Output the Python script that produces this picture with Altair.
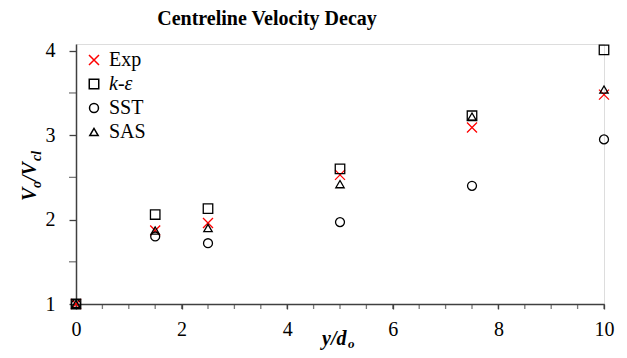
import altair as alt
import pandas as pd

x_vals = [0, 1.5, 2.5, 5, 7.5, 10]
series_names = ["Exp", "k-ε", "SST", "SAS"]
exp_vals = [1.0, 1.87, 1.96, 2.53, 3.09, 3.48]
ke_vals = [1.0, 2.06, 2.13, 2.60, 3.23, 4.01]
sst_vals = [1.0, 1.80, 1.72, 1.97, 2.40, 2.95]
sas_vals = [1.0, 1.87, 1.90, 2.42, 3.22, 3.54]

rows = []
for name, vals in zip(series_names, [exp_vals, ke_vals, sst_vals, sas_vals]):
    for xv, yv in zip(x_vals, vals):
        rows.append({"x": xv, "y": yv, "series": name})
df = pd.DataFrame(rows)

FONT = "Liberation Serif"
W, H = 528, 260
X_PATH = "M-1,-1L1,1M-1,1L1,-1"

points = alt.Chart(df).mark_point(filled=False, strokeWidth=1.3, opacity=1).encode(
    x=alt.X("x:Q", scale=alt.Scale(domain=[0, 10], nice=False, zero=False),
            axis=alt.Axis(values=[0, 2, 4, 6, 8, 10], format="d", title=None, grid=False,
                          labelFont=FONT, labelFontSize=20,
                          labelColor="black", labelPadding=10, tickSize=5,
                          domainColor="#404040", tickColor="#404040",
                          domainWidth=1.5, tickWidth=1.3, labelFlush=False)),
    y=alt.Y("y:Q", scale=alt.Scale(domain=[1, 4.08], nice=False, zero=False),
            axis=alt.Axis(values=[1, 2, 3, 4], format="d", title=None, grid=False,
                          labelFont=FONT, labelFontSize=20, labelColor="black",
                          labelPadding=14, tickSize=7, domainColor="#404040",
                          tickColor="#404040", domainWidth=1.5, tickWidth=1.3,
                          labelFlush=False)),
    shape=alt.Shape("series:N", scale=alt.Scale(domain=series_names,
                    range=[X_PATH, "square", "circle", "triangle-up"])),
    color=alt.Color("series:N", scale=alt.Scale(domain=series_names,
                    range=["#ff0000", "black", "black", "black"])),
    size=alt.Size("series:N", scale=alt.Scale(domain=series_names,
                  range=[100, 70, 64, 55]),
                  legend=alt.Legend(title=None, orient="none", legendX=8, legendY=6,
                                    labelFont=FONT, labelFontSize=20,
                                    labelColor="black", rowPadding=4,
                                    labelOffset=5, padding=0,
                                    labelFontStyle={"expr": "datum.label == 'k-ε' ? 'italic' : 'normal'"})),
)

minor_x = pd.DataFrame({"v": [i * 0.5 for i in range(21)]})

xticks = alt.Chart(minor_x).mark_tick(color="#404040", thickness=1.3, size=5, orient="vertical").encode(
    x=alt.X("v:Q", scale=alt.Scale(domain=[0, 10], nice=False, zero=False)),
    y=alt.value(H + 2.5),
)
minor_y = pd.DataFrame({"v": [1.5, 2.5, 3.5]})
yticks = alt.Chart(minor_y).mark_tick(color="#404040", thickness=1.3, size=7, orient="horizontal").encode(
    y=alt.Y("v:Q", scale=alt.Scale(domain=[1, 4.08], nice=False, zero=False)),
    x=alt.value(-3.5),
)

def txt(s, x, y, size=20, style="italic", weight="bold", angle=0, align="left", baseline="alphabetic"):
    return alt.Chart(pd.DataFrame({"t": [s]})).mark_text(
        font=FONT, fontSize=size, fontStyle=style, fontWeight=weight, angle=angle,
        align=align, baseline=baseline, color="black"
    ).encode(text="t:N", x=alt.value(x), y=alt.value(y))

title = txt("Centreline Velocity Decay", 191, -19, size=20, style="normal", align="center")

xt1 = txt("y/d", 246, 301, size=20)
xt2 = txt("o", 272, 304, size=13)

yx = -40
yt1 = txt("V", yx, 157, angle=270)
yt2 = txt("o", yx + 5, 144, size=14, angle=270)
yt3 = txt("/V", yx, 137, angle=270)
yt4 = txt("cl", yx + 5, 117, size=14, angle=270)

chart = alt.layer(xticks, yticks, points, title, xt1, xt2, yt1, yt2, yt3, yt4).properties(
    width=W, height=H,
    padding={"left": 68, "top": 36, "right": 15, "bottom": 46},
    autosize=alt.AutoSizeParams(type="none"),
).configure_view(stroke=None).configure(font=FONT).configure_axis(labelFont=FONT)

chart.save("out.html", embed_options={"renderer": "svg", "actions": False})
